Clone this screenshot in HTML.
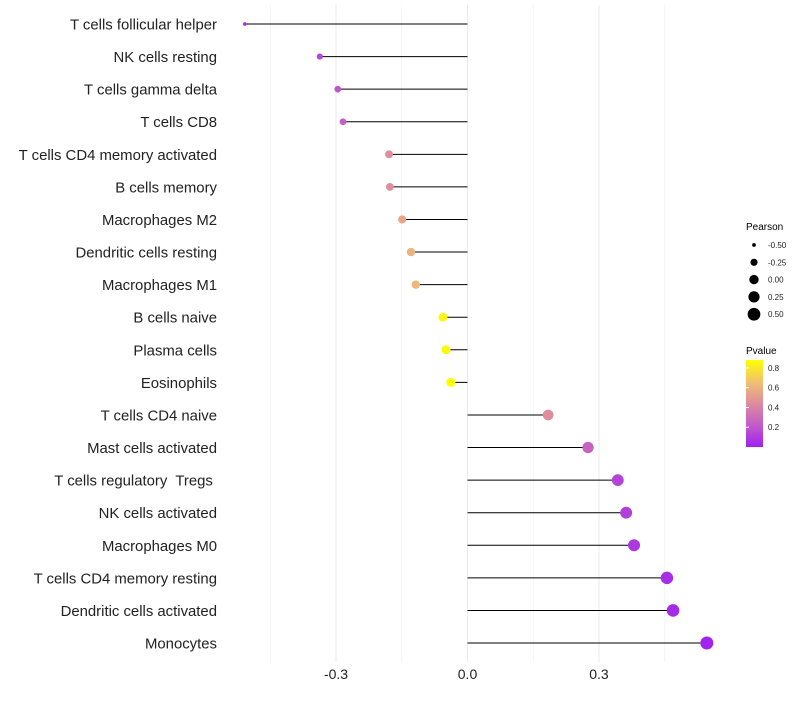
<!DOCTYPE html>
<html><head><meta charset="utf-8"><style>
body{margin:0;background:#fff;font-family:"Liberation Sans",sans-serif}
svg text{font-family:"Liberation Sans",sans-serif;white-space:pre}
</style></head><body>
<svg id="chart" width="800" height="700" xmlns="http://www.w3.org/2000/svg">
<defs><linearGradient id="pg" x1="0" y1="1" x2="0" y2="0">
<stop offset="0" stop-color="#A020F0"/><stop offset="0.25" stop-color="#C35BC8"/><stop offset="0.5" stop-color="#DD8C9F"/><stop offset="0.75" stop-color="#F0C270"/><stop offset="1" stop-color="#FFFF00"/></linearGradient></defs>
<g id="grid"></g>
<g id="marks"></g>
<g id="labels"></g>
<g id="xt"></g>
<g id="lp">
<text x="746" y="230" font-size="10" fill="#000">Pearson</text></g>
<g id="lv">
<text x="746" y="354" font-size="10" fill="#000">Pvalue</text>
<rect x="746" y="360" width="17" height="87" fill="url(#pg)"/></g>
</svg>
<script>
const categories=["T cells follicular helper","NK cells resting","T cells gamma delta","T cells CD8","T cells CD4 memory activated","B cells memory","Macrophages M2","Dendritic cells resting","Macrophages M1","B cells naive","Plasma cells","Eosinophils","T cells CD4 naive","Mast cells activated","T cells regulatory  Tregs ","NK cells activated","Macrophages M0","T cells CD4 memory resting","Dendritic cells activated","Monocytes"];
const pearson=[-0.508,-0.337,-0.296,-0.284,-0.179,-0.177,-0.149,-0.129,-0.118,-0.056,-0.049,-0.038,0.184,0.275,0.343,0.362,0.380,0.455,0.469,0.546];
const pvalue=[0.02,0.14,0.2,0.24,0.45,0.45,0.55,0.6,0.62,0.85,0.86,0.88,0.45,0.25,0.13,0.11,0.09,0.05,0.04,0.01];
const xTicks=[-0.3,0.0,0.3];
const sizeLegend=[-0.5,-0.25,0,0.25,0.5];
const pTicks=[0.2,0.4,0.6,0.8];
const NS="http://www.w3.org/2000/svg";
const X=v=>467.5+v*438.3;
const Y=i=>24+i*32.58;
const R=v=>Math.sqrt(Math.max(3,22+37*v));
const PMAX=0.88;
const stops=[[0,[160,32,240]],[0.25,[195,91,200]],[0.5,[221,140,159]],[0.75,[240,194,112]],[1,[255,255,0]]];
function col(p){let t=Math.min(1,Math.max(0,p/PMAX));for(let k=1;k<stops.length;k++){if(t<=stops[k][0]){const a=stops[k-1],b=stops[k];const f=(t-a[0])/(b[0]-a[0]);return'rgb('+a[1].map((c,j)=>Math.round(c+(b[1][j]-c)*f)).join(',')+')';}}return'rgb(255,255,0)';}
function mk(tag,at,parent){const e=document.createElementNS(NS,tag);for(const k in at)e.setAttribute(k,at[k]);document.getElementById(parent).appendChild(e);return e;}
[-0.45,-0.15,0.15,0.45].forEach(v=>{const l=mk('line',{x1:X(v),x2:X(v),y1:5,y2:662,stroke:'#f0f0f0','stroke-width':0.6},'grid');

});
xTicks.forEach(v=>{const l=mk('line',{x1:X(v),x2:X(v),y1:5,y2:662,stroke:'#ebebeb','stroke-width':1},'grid');


const t=mk('text',{x:X(v),y:679,'font-size':14,'text-anchor':'middle',fill:'#222'},'xt');t.textContent=v.toFixed(1);

});
categories.forEach((c,i)=>{
const l=mk('line',{x1:X(0),x2:X(pearson[i]),y1:Y(i),y2:Y(i),stroke:'#000','stroke-width':1},'marks');


const d=mk('circle',{cx:X(pearson[i]),cy:Y(i),r:R(pearson[i]),fill:col(pvalue[i])},'marks');


const t=mk('text',{x:217,y:Y(i)+5.5,'font-size':14.9,'text-anchor':'end',fill:'#222'},'labels');t.textContent=c;

});
sizeLegend.forEach((v,k)=>{const y=245+k*17.3;
const d=mk('circle',{cx:754,cy:y,r:R(v),fill:'#000'},'lp');


const t=mk('text',{x:768,y:y+3,'font-size':8,fill:'#222'},'lp');t.textContent=v.toFixed(2);

});
pTicks.forEach(v=>{const y=447-v/PMAX*87;
const t=mk('text',{x:768,y:y+3,'font-size':8,fill:'#222'},'lv');t.textContent=v.toFixed(1);


const a=mk('line',{x1:746,x2:749,y1:y,y2:y,stroke:'#fff'},'lv');

});
</script>
</body></html>
